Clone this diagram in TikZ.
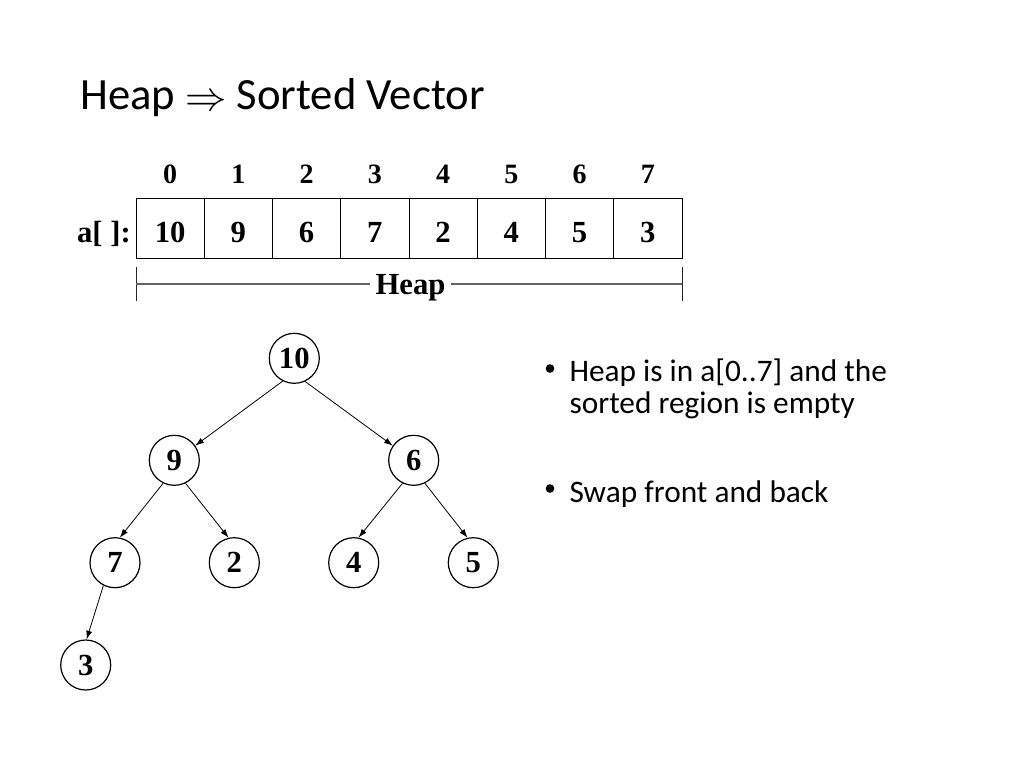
\documentclass[tikz,border=0pt]{standalone}
\usepackage{amsmath}
\usepackage{graphicx}
\usepackage{fontspec}
\setmainfont{Liberation Serif}
\newfontfamily\slidefont{Carlito}
\usetikzlibrary{arrows.meta}

\begin{document}
\begin{tikzpicture}[x=0.75pt,y=0.75pt,yscale=-1,xscale=1,
  keynode/.style={draw,circle,minimum size=37.5pt,inner sep=0pt,line width=0.9pt,font=\fontsize{23}{27}\selectfont\bfseries},
  treearrow/.style={-{Latex[length=6.5pt,width=4.5pt]},line width=0.6pt},
  valtext/.style={anchor=base,inner sep=0pt,font=\fontsize{23}{27}\selectfont\bfseries},
  idxtext/.style={anchor=base,inner sep=0pt,font=\fontsize{21}{25}\selectfont\bfseries},
  slidetext/.style={anchor=base west,inner sep=0pt,font=\slidefont\fontsize{23.5}{28}\selectfont}]
\useasboundingbox (0,0) rectangle (1024,768);

% Text Node
\draw (80,109.3) node [anchor=base west,inner sep=0pt,font=\slidefont\fontsize{33.5}{38}\selectfont] (title) {Heap \raisebox{-1pt}{\scalebox{1.25}{$\Rightarrow$}} Sorted Vector};

%Shape: Rectangle
\draw [line width=0.75pt] (136,198.5) rectangle (682,258.5);
%Straight Lines
\draw [line width=0.75pt] (204.25,198.5) -- (204.25,258.5) (272.5,198.5) -- (272.5,258.5) (340.75,198.5) -- (340.75,258.5) (409,198.5) -- (409,258.5) (477.25,198.5) -- (477.25,258.5) (545.5,198.5) -- (545.5,258.5) (613.75,198.5) -- (613.75,258.5) ;

% Text Node
\draw (170.1,183.3) node [idxtext] (idx0) {0};
\draw (238.4,183.3) node [idxtext] (idx1) {1};
\draw (306.6,183.3) node [idxtext] (idx2) {2};
\draw (374.9,183.3) node [idxtext] (idx3) {3};
\draw (443.1,183.3) node [idxtext] (idx4) {4};
\draw (511.4,183.3) node [idxtext] (idx5) {5};
\draw (579.6,183.3) node [idxtext] (idx6) {6};
\draw (647.9,183.3) node [idxtext] (idx7) {7};
% Text Node
\draw (131,242.7) node [anchor=base east,inner sep=0pt,font=\fontsize{23}{27}\selectfont\bfseries] (arr) {a[ ]:};
\draw (170.1,242.7) node [valtext] (val0) {10};
\draw (238.4,242.7) node [valtext] (val1) {9};
\draw (306.6,242.7) node [valtext] (val2) {6};
\draw (374.9,242.7) node [valtext] (val3) {7};
\draw (443.1,242.7) node [valtext] (val4) {2};
\draw (511.4,242.7) node [valtext] (val5) {4};
\draw (579.6,242.7) node [valtext] (val6) {5};
\draw (647.9,242.7) node [valtext] (val7) {3};

%Straight Lines
\draw [color={rgb, 255:red, 40; green, 40; blue, 40 },line width=0.75pt] (136,267) -- (136,301) ;
\draw [color={rgb, 255:red, 40; green, 40; blue, 40 },line width=0.75pt] (682,267) -- (682,301) ;
\coordinate (hl) at (136,284) ;
\coordinate (hr) at (682,284) ;
% Text Node
\draw (410.5,294) node [anchor=base,inner ysep=0pt,inner xsep=4pt,font=\fontsize{23}{27}\selectfont\bfseries] (heaplbl) {Heap};
\draw [color={rgb, 255:red, 100; green, 100; blue, 100 },line width=1pt] (hl) -- (heaplbl.west |- hl) (heaplbl.east |- hr) -- (hr) ;

%Shape: Circle
\draw (294.3,358.3) node [keynode] (n10) {10};
\draw (174.3,460.3) node [keynode] (n9) {9};
\draw (413.7,460.3) node [keynode] (n6) {6};
\draw (115,562.7) node [keynode] (n7) {7};
\draw (234.3,562.7) node [keynode] (n2) {2};
\draw (353.7,562.7) node [keynode] (n4) {4};
\draw (473.3,562.7) node [keynode] (n5) {5};
\draw (85.7,665) node [keynode] (n3) {3};

%Straight Lines
\draw [treearrow] (n10.243) -- (n9.35) ;
\draw [treearrow] (n10.295) -- (n6.145) ;
\draw [treearrow] (n9.244) -- (n7.79) ;
\draw [treearrow] (n9.296) -- (n2.103) ;
\draw [treearrow] (n6.244) -- (n4.79) ;
\draw [treearrow] (n6.296) -- (n5.103) ;
\draw [treearrow] (n7.243) -- (n3.88) ;

% Text Node
\draw (550,368.5) node [circle,fill,inner sep=0pt,minimum size=6.5pt] (dot1) {};
\draw (569.3,381.5) node [slidetext] (bul1) {Heap is in a[0..7] and the};
\draw (569.3,413) node [slidetext] (bul1b) {sorted region is empty};
\draw (550,488.5) node [circle,fill,inner sep=0pt,minimum size=6.5pt] (dot2) {};
\draw (569.3,502) node [slidetext] (bul2) {Swap front and back};

\end{tikzpicture}
\end{document}
